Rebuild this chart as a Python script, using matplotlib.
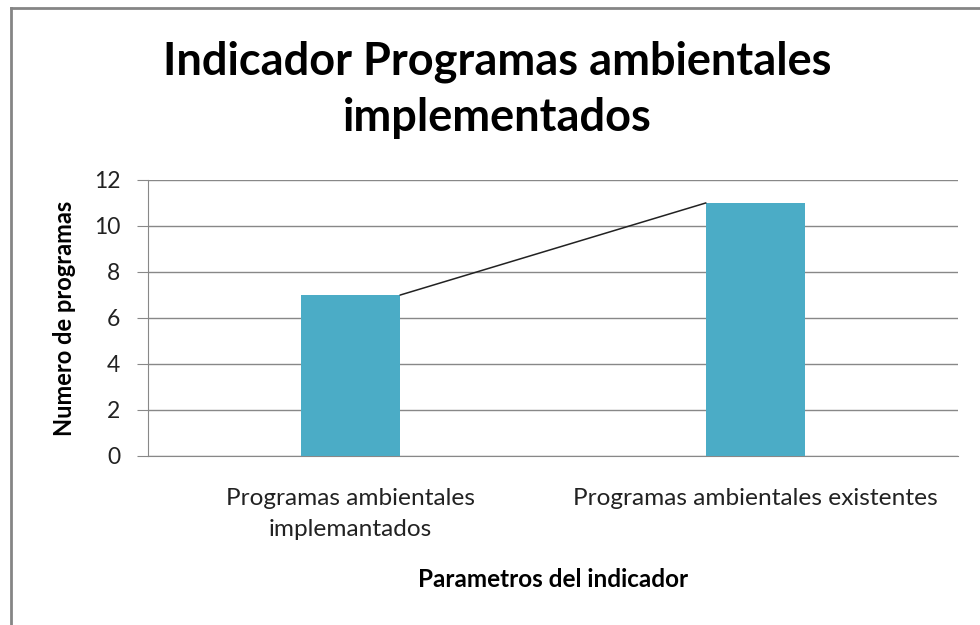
import matplotlib
matplotlib.use("Agg")
import matplotlib.pyplot as plt
from matplotlib.lines import Line2D

categories = ["Programas ambientales\nimplemantados", "Programas ambientales existentes"]
values = [7, 11]
yticks = [0, 2, 4, 6, 8, 10, 12]
title = "Indicador Programas ambientales\nimplementados"
xlabel = "Parametros del indicador"
ylabel = "Numero de programas"

plt.rcParams['font.family'] = ['Lato', 'DejaVu Sans']

fig = plt.figure(figsize=(9.8, 6.25), dpi=100)
ax = fig.add_axes([148/980, 1-456/625, (958-148)/980, (456-180)/625])

x = list(range(len(categories)))
bw = 0.246
ax.bar(x, values, width=bw, color="#4BACC6", zorder=3)
ax.plot([x[0] + bw/2, x[1] - bw/2], values, color="#222222", lw=1.1, zorder=4)

ax.set_xlim(-0.5, len(categories) - 0.5)
ax.set_ylim(0, 12)
ax.set_yticks(yticks)
ax.set_yticklabels([str(v) for v in yticks], fontsize=16.5, color="#222222")
ax.set_xticks(x)
ax.set_xticklabels(categories, fontsize=17.6, color="#222222", linespacing=1.6)
ax.tick_params(axis='x', length=0, pad=23)
ax.tick_params(axis='y', length=8, color="#888888", pad=12)
ax.yaxis.grid(True, color="#888888", lw=1, zorder=0)
for s in ["top", "right"]:
    ax.spines[s].set_visible(False)
for s in ["left", "bottom"]:
    ax.spines[s].set_color("#888888")
ax.set_xlabel(xlabel, fontsize=17.5, fontweight="bold", labelpad=20)
ax.set_ylabel(ylabel, fontsize=17, fontweight="bold", labelpad=13)

fig.text(497/980, 1-90/625, title, ha="center", va="center", fontsize=32.5,
         fontweight="bold", linespacing=1.4)

# outer frame
fig.add_artist(Line2D([11/980, 11/980], [0, 1-8/625], transform=fig.transFigure,
                      color="#858585", lw=2))
fig.add_artist(Line2D([11/980, 1], [1-8/625, 1-8/625], transform=fig.transFigure,
                      color="#858585", lw=2))

fig.savefig("out.png", dpi=100)
